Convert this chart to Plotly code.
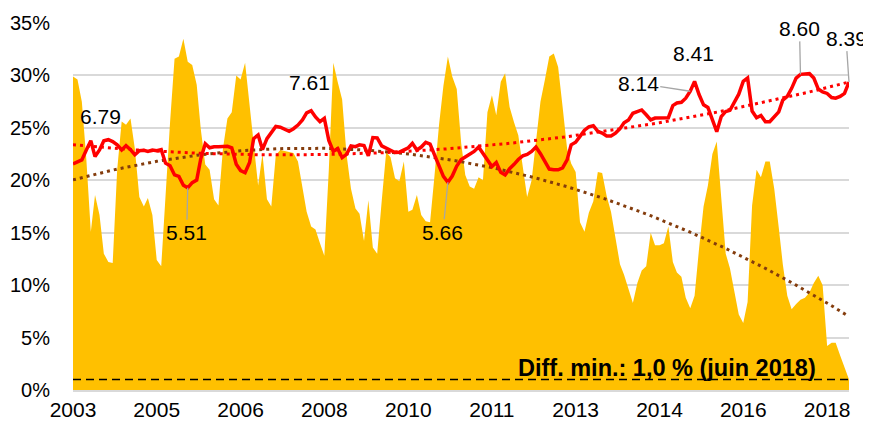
import numpy as np
import pandas as pd
import plotly.graph_objects as go

# ---- data (monthly, Oct 2003 - Jun 2018) ----
months = pd.date_range("2003-10-01", "2018-06-01", freq="MS")

spread = [
    29.9, 29.6, 27.5, 22.0, 15.1, 18.6, 16.7, 13.0, 12.2, 12.1,
    21.0, 25.6, 25.3, 25.9, 23.0, 18.4, 17.5, 18.3, 16.7, 12.4,
    11.8, 19.0, 25.5, 31.6, 31.8, 33.5, 31.3, 31.0, 29.1, 24.9,
    21.5, 21.0, 18.2, 17.6, 23.0, 25.9, 26.5, 30.0, 29.6, 31.2,
    27.0, 23.0, 19.5, 22.5, 18.2, 17.5, 22.4, 22.9, 22.8, 22.7,
    22.6, 21.8, 19.5, 17.0, 15.6, 15.3, 14.0, 12.8, 21.0, 31.2,
    29.4, 27.7, 22.5, 19.2, 17.3, 16.8, 14.2, 18.1, 13.6, 13.0,
    18.0, 22.7, 22.2, 20.2, 19.9, 21.8, 17.0, 17.2, 18.6, 16.7,
    16.1, 16.0, 20.5, 25.3, 29.0, 31.8, 29.9, 28.7, 23.5, 20.5,
    19.4, 19.2, 20.3, 20.0, 26.5, 28.1, 26.2, 29.4, 30.2, 27.0,
    25.5, 24.3, 21.3, 18.4, 20.0, 24.0, 27.5, 29.6, 31.8, 32.1,
    30.8, 27.0, 23.0, 21.6, 20.8, 16.0, 15.1, 16.9, 18.0, 20.8,
    20.7, 18.5, 17.0, 14.5, 12.0, 11.0, 9.5, 8.3, 10.2, 11.4,
    11.8, 15.0, 13.8, 13.8, 14.0, 15.6, 12.2, 11.2, 10.8, 8.8,
    7.8, 9.0, 13.5, 17.5, 19.5, 22.5, 23.7, 18.5, 13.0, 11.6,
    9.4, 7.2, 6.4, 8.4, 17.6, 21.0, 20.3, 21.8, 21.8, 19.2,
    15.5, 12.0, 9.0, 7.7, 8.2, 8.6, 8.8, 9.3, 10.2, 10.9,
    10.0, 4.2, 4.5, 4.5, 3.3, 2.2, 1.0,
]

rate = [
    6.16, 6.22, 6.27, 6.54, 6.79, 6.36, 6.54, 6.79, 6.82, 6.77,
    6.68, 6.54, 6.66, 6.55, 6.41, 6.52, 6.53, 6.50, 6.54, 6.52,
    6.55, 6.18, 6.11, 5.86, 5.82, 5.58, 5.51, 5.65, 5.72, 6.30,
    6.71, 6.60, 6.63, 6.63, 6.63, 6.64, 6.60, 6.15, 5.98, 5.92,
    6.20, 6.85, 6.95, 6.55, 6.85, 7.00, 7.18, 7.16, 7.10, 7.05,
    7.12, 7.22, 7.36, 7.55, 7.61, 7.44, 7.31, 7.40, 6.80, 6.50,
    6.58, 6.33, 6.42, 6.65, 6.63, 6.68, 6.66, 6.38, 6.88, 6.87,
    6.65, 6.59, 6.52, 6.47, 6.48, 6.55, 6.60, 6.72, 6.54, 6.62,
    6.75, 6.70, 6.40, 6.12, 5.82, 5.66, 5.83, 6.10, 6.28, 6.35,
    6.42, 6.50, 6.62, 6.45, 6.25, 6.09, 6.20, 5.93, 5.86, 6.03,
    6.15, 6.28, 6.38, 6.42, 6.50, 6.62, 6.44, 6.24, 6.02, 6.00,
    6.00, 6.05, 6.27, 6.68, 6.75, 6.91, 7.08, 7.17, 7.20, 7.05,
    7.00, 6.92, 6.92, 7.00, 7.12, 7.28, 7.36, 7.54, 7.59, 7.63,
    7.50, 7.36, 7.41, 7.41, 7.41, 7.42, 7.75, 7.82, 7.84, 7.95,
    8.14, 8.41, 8.05, 7.77, 7.70, 7.35, 7.04, 7.45, 7.59, 7.62,
    7.85, 8.06, 8.41, 8.50, 7.60, 7.42, 7.48, 7.31, 7.31, 7.43,
    7.58, 7.90, 8.00, 8.22, 8.50, 8.60, 8.62, 8.62, 8.50, 8.20,
    8.12, 8.08, 7.97, 7.95, 8.00, 8.08, 8.39,
]

tick_step = 19
tick_labels = ["2003", "2005", "2006", "2008", "2010",
               "2011", "2013", "2014", "2016", "2018"]

diff_min = 1.0
diff_text = "Diff. min.: 1,0 % (juin 2018)"

# labelled points: index, pixel offset of text (dx, dy), leader line shown
label_idx = [4, 26, 54, 85, 140, 141, 165, 176]
label_off = [(10, -24), (-1, 45), (-2, -28), (-5, 50),
             (-52, -8), (-1, -28), (-1, -46), (-3, -44)]
label_leader = [False, True, False, True, True, False, True, True]

# ---- trend lines (2nd-order polynomial fits of the series) ----
t = np.arange(len(months))
spread_trend = np.polyval(np.polyfit(t, spread, 2), t)
rate_trend = np.polyval(np.polyfit(t, rate, 2), t)

FONT = "Liberation Sans, Arial, sans-serif"
YELLOW = "#FFC000"
RED = "#FF0000"
BROWN = "#843C0C"
GRID = "#D9D9D9"

fig = go.Figure()

fig.add_trace(go.Scatter(
    x=months, y=spread, mode="lines", fill="tozeroy",
    fillcolor=YELLOW, line=dict(width=0, color=YELLOW),
    hoverinfo="skip", yaxis="y"))

fig.add_trace(go.Scatter(
    x=months, y=[diff_min] * len(months), mode="lines",
    line=dict(color="black", width=1.5, dash="8px,5px"),
    hoverinfo="skip", yaxis="y"))

fig.add_trace(go.Scatter(
    x=months, y=spread_trend, mode="lines",
    line=dict(color=BROWN, width=3, dash="3px,4px"),
    hoverinfo="skip", yaxis="y"))

fig.add_trace(go.Scatter(
    x=months, y=rate_trend, mode="lines",
    line=dict(color=RED, width=3, dash="3px,4px"),
    hoverinfo="skip", yaxis="y2"))

fig.add_trace(go.Scatter(
    x=months, y=rate, mode="lines",
    line=dict(color=RED, width=3.5),
    hoverinfo="skip", yaxis="y2"))

annotations = []
for i, (dx, dy), lead in zip(label_idx, label_off, label_leader):
    annotations.append(dict(
        x=months[i], y=rate[i], xref="x", yref="y2",
        text=f"{rate[i]:.2f}", showarrow=True, arrowhead=0,
        arrowwidth=1.3,
        arrowcolor="#A6A6A6" if lead else "rgba(0,0,0,0)",
        ax=dx, ay=dy, standoff=0,
        font=dict(family=FONT, size=21, color="black")))

annotations.append(dict(
    x=months[169], y=diff_min, xref="x", yref="y",
    text=f"<b>{diff_text}</b>", showarrow=False,
    xanchor="right", yanchor="middle", yshift=12,
    font=dict(family=FONT, size=23.5, color="black")))

# the page places the figure 8px from the top-left corner (default body margin)
fig.update_layout(
    width=863, height=415,
    margin=dict(l=65, r=22, t=15, b=33),
    paper_bgcolor="white", plot_bgcolor="white",
    showlegend=False,
    font=dict(family=FONT, size=20, color="black"),
    xaxis=dict(
        type="date", range=[months[0], months[-1]],
        tickvals=list(months[::tick_step]), ticktext=tick_labels,
        showgrid=False, zeroline=False, automargin=False,
        showline=True, linecolor=GRID, linewidth=2,
        ticks="", tickfont=dict(family=FONT, size=21, color="black")),
    yaxis=dict(
        range=[0, 35], dtick=5, ticksuffix="%",
        showgrid=True, gridcolor=GRID, gridwidth=1.5,
        zeroline=False, showline=False, ticks="", automargin=False,
        ticklabelstandoff=22,
        tickfont=dict(family=FONT, size=20, color="black")),
    yaxis2=dict(range=[0, 10], overlaying="y", visible=False),
    annotations=annotations,
)

fig.write_html("out.html")
